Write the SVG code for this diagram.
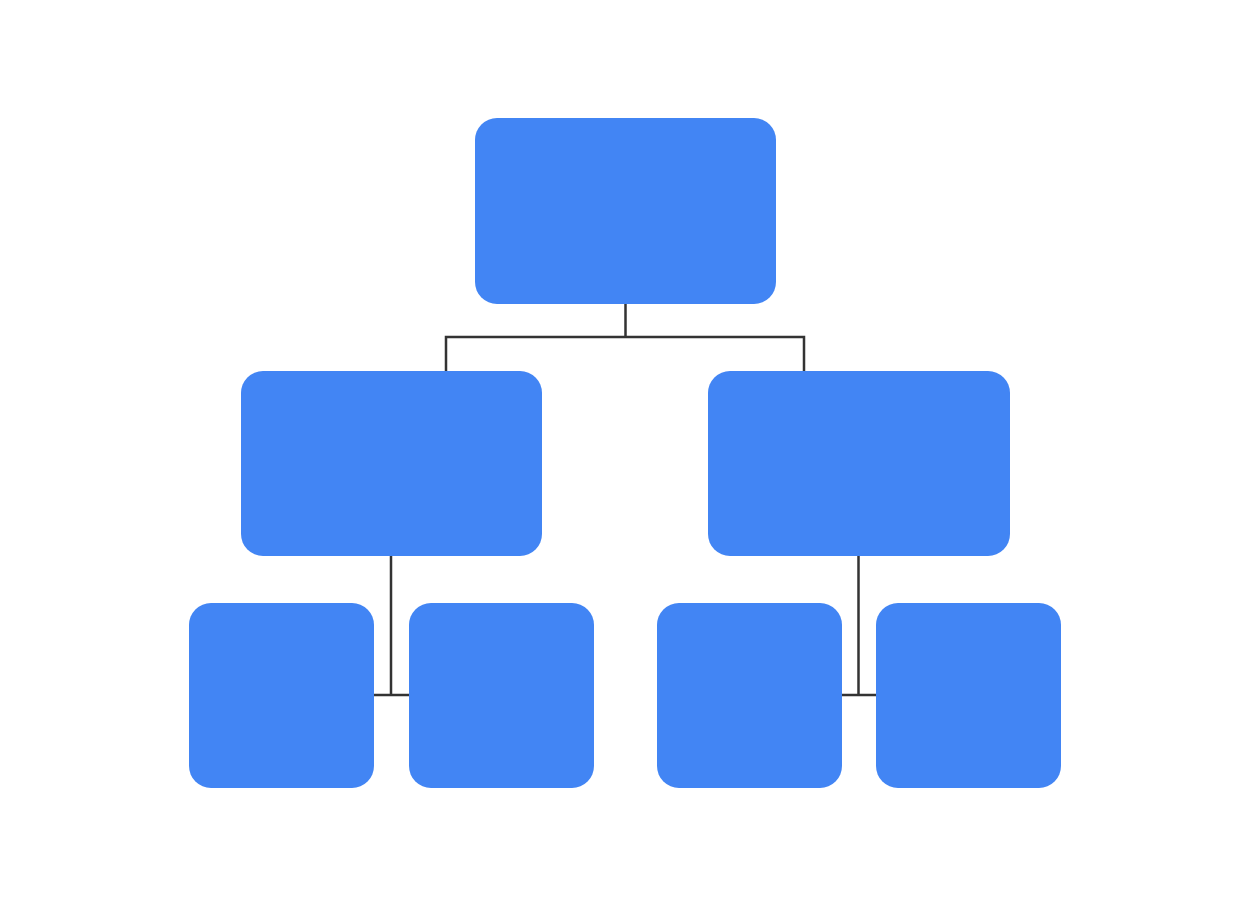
<svg xmlns="http://www.w3.org/2000/svg" width="1251" height="901" viewBox="0 0 1251 901">
<style>
.node{fill:#4285F4;}
.conn{fill:none;stroke:#333333;stroke-width:2.5;}
</style>
<rect width="1251" height="901" fill="#ffffff"/>
<g id="connectors">
<path class="conn" d="M625.5 304 V337 M446 371 V337 H804 V371"/>
<path class="conn" d="M391 556 V695 M374 695 H409"/>
<path class="conn" d="M858.5 556 V695 M842 695 H876"/>
</g>
<g id="root"><rect class="node" x="475" y="118" width="301" height="186" rx="22"/></g>
<g id="mid-left"><rect class="node" x="241" y="371" width="301" height="185" rx="22"/></g>
<g id="mid-right"><rect class="node" x="708" y="371" width="302" height="185" rx="22"/></g>
<g id="leaf-1"><rect class="node" x="189" y="603" width="185" height="185" rx="22"/></g>
<g id="leaf-2"><rect class="node" x="409" y="603" width="185" height="185" rx="22"/></g>
<g id="leaf-3"><rect class="node" x="657" y="603" width="185" height="185" rx="22"/></g>
<g id="leaf-4"><rect class="node" x="876" y="603" width="185" height="185" rx="22"/></g>
</svg>
